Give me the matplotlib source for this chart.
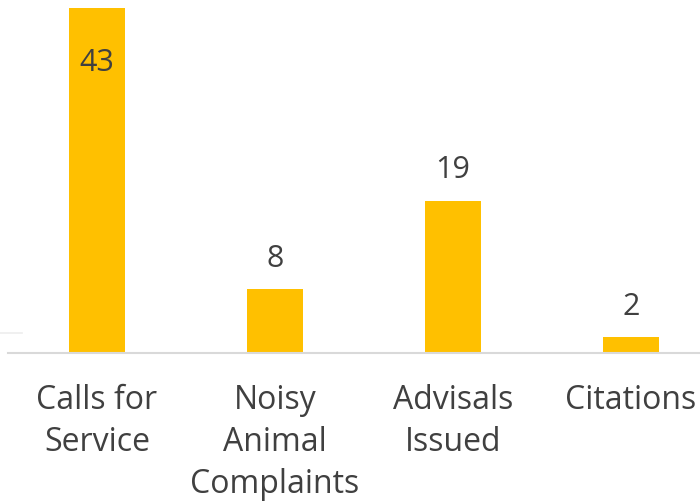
import matplotlib.pyplot as plt
from matplotlib.lines import Line2D

# data
categories = ["Calls for\nService", "Noisy\nAnimal\nComplaints", "Advisals\nIssued", "Citations"]
counts = [43, 8, 19, 2]

bar_color = "#FFC000"
text_color = "#404040"
plt.rcParams['font.family'] = ['Open Sans', 'DejaVu Sans']

W, H = 700, 501
fig = plt.figure(figsize=(W / 100, H / 100), dpi=100)
# axes placed in pixel units: left 8px, baseline at 353px from top
ax = fig.add_axes([8 / W, 148 / H, 692 / W, 353 / H])

x = list(range(len(counts)))
ax.bar(x, counts, width=0.315, color=bar_color, zorder=2)
ax.set_xlim(-0.5, -0.5 + 692 / 178)
ax.set_ylim(0, 44)

for xi, v in zip(x, counts):
    if v > 40:
        # no room above, Excel puts it inside the bar
        ax.annotate(str(v), (xi, v), xytext=(0, -45), textcoords='offset points',
                    ha='center', va='baseline', fontsize=22, color=text_color)
    else:
        ax.annotate(str(v), (xi, v), xytext=(0, 16), textcoords='offset points',
                    ha='center', va='baseline', fontsize=22, color=text_color)

ax.set_xticks(x)
ax.set_xticklabels(categories, fontsize=23, color=text_color, linespacing=1.36)
ax.tick_params(axis='x', length=0, pad=22)
ax.set_yticks([])
for s in ['top', 'right', 'left']:
    ax.spines[s].set_visible(False)
ax.spines['bottom'].set_color('#D9D9D9')
ax.spines['bottom'].set_linewidth(1.5)

# little leftover gridline stub at the left edge
fig.add_artist(Line2D([0, 22 / W], [1 - 333 / H, 1 - 333 / H], color='#EDEDED', lw=1.2))

fig.savefig("out.png", dpi=100)
